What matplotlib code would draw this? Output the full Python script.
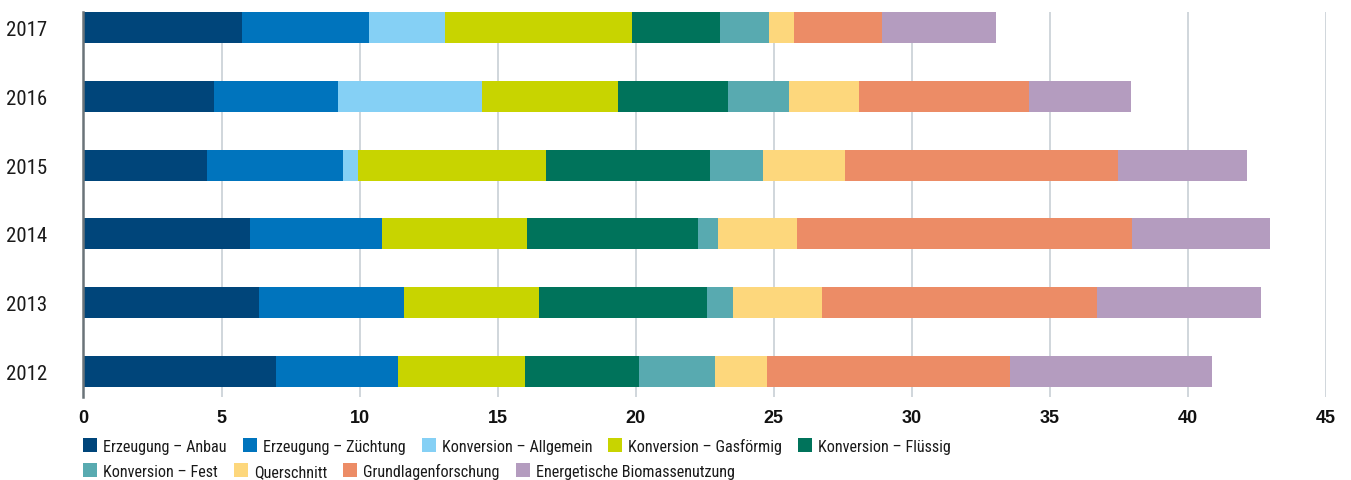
import matplotlib.pyplot as plt
import numpy as np
from matplotlib.patches import Patch
from matplotlib import font_manager as fm

# ====== データ ======
years = ["2017", "2016", "2015", "2014", "2013", "2012"]

anbau = [5.74, 4.72, 4.48, 6.03, 6.35, 6.97]
zuechtung = [4.61, 4.49, 4.91, 4.79, 5.26, 4.43]
allgemein = [2.73, 5.24, 0.55, 0.0, 0.0, 0.0]
gasfoermig = [6.79, 4.90, 6.81, 5.24, 4.88, 4.59]
fluessig = [3.19, 3.98, 5.93, 6.19, 6.08, 4.12]
fest = [1.76, 2.21, 1.93, 0.73, 0.95, 2.75]
querschnitt = [0.93, 2.53, 2.96, 2.86, 3.22, 1.90]
grundlagen = [3.16, 6.17, 9.88, 12.14, 9.96, 8.78]
energetisch = [4.15, 3.68, 4.70, 5.00, 5.96, 7.32]

labels = [
    "Erzeugung – Anbau", "Erzeugung – Züchtung", "Konversion – Allgemein",
    "Konversion – Gasförmig", "Konversion – Flüssig", "Konversion – Fest",
    "Querschnitt", "Grundlagenforschung", "Energetische Biomassenutzung",
]
colors = [
    "#00457a", "#0074bd", "#85d0f5", "#c8d400", "#00735b",
    "#58aab0", "#fdd77c", "#ec8c66", "#b49cbf",
]
xticks = [0, 5, 10, 15, 20, 25, 30, 35, 40, 45]

series = [anbau, zuechtung, allgemein, gasfoermig, fluessig,
          fest, querschnitt, grundlagen, energetisch]

# ====== フォント（細めの書体があれば使う） ======
installed = [(f.name, f.stretch) for f in fm.fontManager.ttflist]
narrow_family, narrow_stretch, scale = None, "normal", 1.0
for name in ["Liberation Sans Narrow", "Roboto Condensed", "Open Sans Condensed",
             "Noto Sans Condensed", "DejaVu Sans Condensed"]:
    if any(n == name for n, _ in installed):
        narrow_family = name
        break
if narrow_family is None:
    for name in ["Noto Sans", "Open Sans", "DejaVu Sans", "Roboto", "Inter"]:
        if any(n == name and s in ("condensed", "semi-condensed", 62.5, 75, 87.5)
               for n, s in installed):
            narrow_family, narrow_stretch = name, "condensed"
            break
if narrow_family is None:
    # 見つからなければ Roboto を少し小さめに
    narrow_family, scale = "Roboto", 0.92

text_color = "#1a1a1a"
narrow = dict(family=[narrow_family, "DejaVu Sans"], stretch=narrow_stretch)

# ====== 描画 ======
fig = plt.figure(figsize=(13.51, 4.81), dpi=100)
ax = fig.add_axes([0.0618, 0.1726, 0.9197, 0.8004])

y = np.arange(len(years))
left = np.zeros(len(years))
for vals, c, lab in zip(series, colors, labels):
    ax.barh(y, vals, left=left, height=0.45, color=c, linewidth=0, label=lab, zorder=2)
    left += np.array(vals)

ax.set_xlim(0, 45)
ax.set_ylim(5.37, -0.225)
ax.set_xticks(xticks)
ax.set_xticklabels([str(t) for t in xticks], family=["Liberation Sans", "DejaVu Sans"],
                   fontweight="bold", fontsize=13, color="#111111")
ax.set_yticks(y)
ax.set_yticklabels(years, fontsize=15 * scale, color=text_color, **narrow)
ax.tick_params(axis="x", length=0, pad=9)
ax.tick_params(axis="y", length=0, pad=26)

# グリッド
ax.grid(axis="x", color="#c3ccd2", linewidth=1.1)
ax.set_axisbelow(True)
for s in ["top", "right", "bottom"]:
    ax.spines[s].set_visible(False)
ax.spines["left"].set_color("#6b7479")
ax.spines["left"].set_linewidth(1.8)
ax.spines["left"].set_zorder(3)

# 凡例（2行、それぞれ左詰め）　サイズはピクセルで合わせる
handles = [Patch(facecolor=c, edgecolor="none") for c in colors]
fs = 11.65 * scale
fs_px = fs * 100 / 72
leg_kw = dict(frameon=False, prop=fm.FontProperties(size=fs, **narrow),
              handlelength=14 / fs_px, handleheight=(14 / fs_px - 0.245) / 0.65,
              handletextpad=6 / fs_px, columnspacing=16 / fs_px,
              borderpad=0, borderaxespad=0,
              loc="center left", bbox_transform=fig.transFigure, labelcolor=text_color)
leg1 = fig.legend(handles[:5], labels[:5], ncol=5, bbox_to_anchor=(0.0618, 0.0707), **leg_kw)
leg2 = fig.legend(handles[5:], labels[5:], ncol=4, bbox_to_anchor=(0.0618, 0.0187), **leg_kw)

fig.savefig("out.png", dpi=100)
